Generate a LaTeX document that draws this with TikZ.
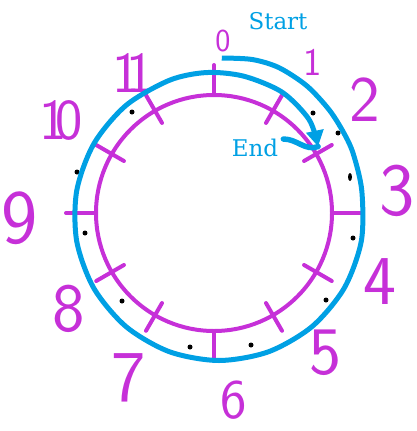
\documentclass[tikz,border=0pt]{standalone}
\usepackage{fontspec}
\usepackage{tikz}
\usetikzlibrary{arrows.meta}
\newfontfamily\labelfont{DejaVu Serif}
\definecolor{pen}{RGB}{198,48,216}
\definecolor{ink}{RGB}{0,160,228}

\begin{document}
\begin{tikzpicture}[x=1pt,y=-1pt,
    num/.style={text=pen,inner sep=0pt,font=\sffamily\fontsize{#1}{#1}\selectfont},
    num/.default=66,
    lbl/.style={text=ink,inner sep=0pt,font=\labelfont\fontsize{23}{23}\selectfont},
    ring/.style={pen,line width=4pt},
    tick/.style={pen,line width=4pt,line cap=round},
    spiral/.style={ink,line width=5pt,-{Triangle[length=16pt,width=17pt]}},
    hook/.style={ink,line width=5.5pt,line cap=round}]
  \useasboundingbox (0,0) rectangle (417,431);
  % clock ring and its ticks
  \draw[ring] (214,213) circle[radius=118pt];
  \begin{scope}[shift={(214,213)}]
    \foreach \k in {0,3,6,9}
      \draw[tick] ({30*\k-90}:118) -- ({30*\k-90}:148);
    \foreach \k in {1,2,4,5,7,8,10,11}
      \draw[tick] ({30*\k-90}:104) -- ({30*\k-90}:136);
  \end{scope}
  % hour numbers
  \foreach \k/\x/\y/\s/\t in {0/223/41/32/0, 1/313/62/39/1, 2/365/100/65/2,
      3/397/191/75/3, 4/380/282/70/4, 5/325/353/68/5, 6/234/400/56/6,
      7/129/378/73/7, 8/69/309/69/8, 9/20/218/77/9,
      10/61/120/58/1\kern-.2em0, 11/133/73/58/1\kern-.22em1}
    \node[num=\s] (n\k) at (\x,\y) {\t};
  % dots between ring and loop
  \foreach \x/\y in {132/112, 313/113, 338/133, 353/238, 326/300, 251/345,
      190/347, 122/301, 85/233, 77/172}
    \fill (\x,\y) circle[radius=2.5pt];
  \fill (350,177) ellipse[x radius=2pt,y radius=4pt];
  % the loop, start to end
  \begin{scope}[shift={(219,216)}]
    \draw[spiral] plot[smooth] coordinates {(-89:158) (-78:160) (-68:160)
      (-56:157) (-44:153) (-34:150) (-25:148) (-10:145) (10:144.5) (30:144.5)
      (50:144.5) (70:144.5) (90:144.5) (110:144.5) (130:144.5) (150:144.5)
      (170:144.5) (190:144.5) (210:144.5) (230:144.5) (250:144.5) (265:144)
      (280:142) (297:139) (313:132) (325:121)};
    \coordinate (tip) at (325:121);
  \end{scope}
  \node[lbl] (start) at (278,21) {Start};
  \node[lbl] (endlbl) at (255,148) {End};
  \draw[hook] ([shift={(5,-9)}]endlbl.east) to[out=0,in=200] (tip);
\end{tikzpicture}
\end{document}
